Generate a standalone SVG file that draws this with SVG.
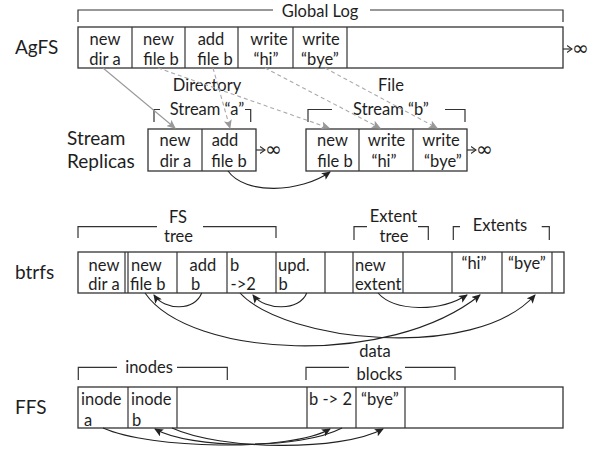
<svg xmlns="http://www.w3.org/2000/svg" width="593" height="450" viewBox="0 0 593 450">
<defs>
<style>
text{font-family:Lato,"Liberation Sans","DejaVu Sans",sans-serif;fill:#1e1e1e}
.lbl{font-size:19px}
.c{font-size:16.5px}
.m{text-anchor:middle}
.box{fill:#fff;stroke:#333;stroke-width:1.3}
.div{stroke:#333;stroke-width:1.2}
.br{fill:none;stroke:#333;stroke-width:1.2}
.g{fill:none;stroke:#999;stroke-width:1.1}
.gd{fill:none;stroke:#aaa;stroke-width:1.1;stroke-dasharray:4 3}
.k{fill:none;stroke:#222;stroke-width:1.1}
.inf{font-size:20px;font-family:"DejaVu Sans",sans-serif}
</style>
<marker id="ag" markerWidth="9" markerHeight="8" refX="8" refY="4" orient="auto" markerUnits="userSpaceOnUse"><path d="M0,0 L9,4 L0,8 L2,4 z" fill="#999"/></marker>
<marker id="ak" markerWidth="9" markerHeight="8" refX="8" refY="4" orient="auto" markerUnits="userSpaceOnUse"><path d="M0,0 L9,4 L0,8 L2,4 z" fill="#222"/></marker>
<marker id="ai" markerWidth="6" markerHeight="8" refX="5.5" refY="4" orient="auto" markerUnits="userSpaceOnUse"><path d="M0.5,0.5 L5.5,4 L0.5,7.5" fill="none" stroke="#333" stroke-width="1.1"/></marker>
</defs>

<!-- row labels -->
<g id="labels">
<text class="lbl" x="15" y="54">AgFS</text>
<text class="lbl" x="67" y="145">Stream</text>
<text class="lbl" x="67" y="168">Replicas</text>
<text class="lbl" x="15" y="279">btrfs</text>
<text class="lbl" x="15" y="414">FFS</text>
</g>

<!-- brackets -->
<g id="brackets">
<path class="br" d="M78,22 V10 H273"/><path class="br" d="M370,10 H563 V22"/>
<text class="c m" x="320" y="16.5">Global Log</text>
<path class="br" d="M154,122 V109.5 H160"/><path class="br" d="M245,109.5 H250.7 V122"/>
<text class="c m" x="207" y="91">Directory</text>
<text class="c m" x="207" y="114.5">Stream “a”</text>
<path class="br" d="M308,122 V109.5 H332"/><path class="br" d="M445,109.5 H465 V122"/>
<text class="c m" x="391" y="91">File</text>
<text class="c m" x="391" y="114.5">Stream “b”</text>
<path class="br" d="M78,238 V226.7 H157"/><path class="br" d="M203,226.7 H276 V238"/>
<text class="c m" x="178" y="223">FS</text>
<text class="c m" x="178.5" y="241.5">tree</text>
<path class="br" d="M354,240 V226.7 H367"/><path class="br" d="M418,226.7 H428.3 V240"/>
<text class="c m" x="393.5" y="221.7">Extent</text>
<text class="c m" x="394" y="241.5">tree</text>
<path class="br" d="M453.3,240 V226.7 H460"/><path class="br" d="M541.7,226.7 H549.3 V240"/>
<text class="c m" x="500" y="231">Extents</text>
<path class="br" d="M78.3,380 V367.3 H117"/><path class="br" d="M177,367.3 H227.3 V380"/>
<text class="c m" x="149" y="373">inodes</text>
<path class="br" d="M306,380 V367.3 H349"/><path class="br" d="M405,367.3 H455 V380"/>
<text class="c m" x="375" y="356.7">data</text>
<text class="c m" x="379.5" y="379.5">blocks</text>
</g>

<!-- AgFS global log -->
<g id="agfs">
<rect class="box" x="78" y="27" width="485" height="41"/>
<g id="ag-newdir"><line class="div" x1="132" y1="27" x2="132" y2="68"/><text class="c m" x="105" y="45">new</text><text class="c m" x="105" y="65">dir a</text></g>
<g id="ag-newfile"><line class="div" x1="185" y1="27" x2="185" y2="68"/><text class="c m" x="158.5" y="45">new</text><text class="c m" x="161" y="65">file b</text></g>
<g id="ag-addfile"><line class="div" x1="238" y1="27" x2="238" y2="68"/><text class="c m" x="211" y="45">add</text><text class="c m" x="215" y="65">file b</text></g>
<g id="ag-writehi"><line class="div" x1="293" y1="27" x2="293" y2="68"/><text class="c m" x="269" y="45">write</text><text class="c m" x="266" y="65">“hi”</text></g>
<g id="ag-writebye"><line class="div" x1="347" y1="27" x2="347" y2="68"/><text class="c m" x="321" y="45">write</text><text class="c m" x="320" y="65">“bye”</text></g>
<g id="ag-inf"><line class="div" x1="563" y1="49" x2="572" y2="49" marker-end="url(#ai)"/><text class="inf" x="572" y="55">∞</text></g>
</g>

<!-- Stream a -->
<g id="stream-a">
<rect class="box" x="148" y="129" width="108" height="42"/>
<g id="sa-newdir"><line class="div" x1="202" y1="129" x2="202" y2="171"/><text class="c m" x="175" y="145.5">new</text><text class="c m" x="175.5" y="166.5">dir a</text></g>
<g id="sa-addfile"><text class="c m" x="225" y="145.5">add</text><text class="c m" x="229" y="166.5">file b</text></g>
<g id="sa-inf"><line class="div" x1="256" y1="150" x2="265" y2="150" marker-end="url(#ai)"/><text class="inf" x="265" y="156">∞</text></g>
</g>

<!-- Stream b -->
<g id="stream-b">
<rect class="box" x="306" y="129" width="161" height="42"/>
<g id="sb-newfile"><line class="div" x1="359" y1="129" x2="359" y2="171"/><text class="c m" x="332.5" y="145.5">new</text><text class="c m" x="335" y="166.5">file b</text></g>
<g id="sb-writehi"><line class="div" x1="413" y1="129" x2="413" y2="171"/><text class="c m" x="386.5" y="145.5">write</text><text class="c m" x="384" y="166.5">“hi”</text></g>
<g id="sb-writebye"><text class="c m" x="441" y="145.5">write</text><text class="c m" x="443" y="166.5">“bye”</text></g>
<g id="sb-inf"><line class="div" x1="467" y1="150" x2="476" y2="150" marker-end="url(#ai)"/><text class="inf" x="476" y="156">∞</text></g>
</g>

<!-- btrfs -->
<g id="btrfs">
<rect class="box" x="78" y="252" width="486" height="41"/>
<g id="bt-newdir"><line class="div" x1="125" y1="252" x2="125" y2="293"/><text class="c m" x="104" y="270.5">new</text><text class="c m" x="104" y="290">dir a</text></g>
<g id="bt-newfile"><line class="div" x1="128" y1="252" x2="128" y2="293"/><line class="div" x1="177" y1="252" x2="177" y2="293"/><text class="c" x="131" y="270.5">new</text><text class="c" x="130" y="290">file b</text></g>
<g id="bt-add"><line class="div" x1="227" y1="252" x2="227" y2="293"/><text class="c" x="189.5" y="270.5">add</text><text class="c" x="191" y="290">b</text></g>
<g id="bt-b2"><line class="div" x1="276" y1="252" x2="276" y2="293"/><text class="c" x="230" y="270.5">b</text><text class="c" x="230.5" y="290">-&gt;2</text></g>
<g id="bt-upd"><line class="div" x1="325" y1="252" x2="325" y2="293"/><text class="c" x="278" y="270.5">upd.</text><text class="c" x="278.5" y="290">b</text></g>
<g id="bt-empty1"><line class="div" x1="353" y1="252" x2="353" y2="293"/></g>
<g id="bt-newextent"><line class="div" x1="403" y1="252" x2="403" y2="293"/><text class="c" x="355" y="270.5">new</text><text class="c" x="355" y="290">extent</text></g>
<g id="bt-empty2"><line class="div" x1="452" y1="252" x2="452" y2="293"/></g>
<g id="bt-hi"><line class="div" x1="502" y1="252" x2="502" y2="293"/><text class="c m" x="474" y="269">“hi”</text></g>
<g id="bt-bye"><line class="div" x1="552" y1="252" x2="552" y2="293"/><text class="c m" x="527" y="269">“bye”</text></g>
</g>

<!-- FFS -->
<g id="ffs">
<rect class="box" x="78" y="387" width="485" height="41"/>
<g id="ffs-inodea"><line class="div" x1="128" y1="387" x2="128" y2="428"/><text class="c" x="81" y="405">inode</text><text class="c" x="84" y="426">a</text></g>
<g id="ffs-inodeb"><line class="div" x1="177" y1="387" x2="177" y2="428"/><text class="c" x="131" y="405">inode</text><text class="c" x="132" y="426">b</text></g>
<g id="ffs-empty1"><line class="div" x1="307" y1="387" x2="307" y2="428"/></g>
<g id="ffs-dir"><line class="div" x1="356" y1="387" x2="356" y2="428"/><text class="c" x="309" y="405">b -&gt; 2</text></g>
<g id="ffs-bye"><line class="div" x1="405" y1="387" x2="405" y2="428"/><text class="c" x="361" y="405">“bye”</text></g>
</g>

<!-- connectors -->
<g id="connectors">
<path class="g" d="M103,68 L175,128" marker-end="url(#ag)"/>
<path class="gd" d="M158,68 L329,128" marker-end="url(#ag)"/>
<path class="gd" d="M213,68 L230,128" marker-end="url(#ag)"/>
<path class="gd" d="M265,68 L380,128" marker-end="url(#ag)"/>
<path class="gd" d="M325,68 L437,128" marker-end="url(#ag)"/>
<path class="k" d="M228,171 C245,195 300,193 330,172" marker-end="url(#ak)"/>

<path class="k" d="M201.7,293 C195,311 165,311 154,295" marker-end="url(#ak)"/>
<path class="k" d="M306.7,293 C300,311 265,311 253,295" marker-end="url(#ak)"/>
<path class="k" d="M378,293 C395,312 440,312 467,295" marker-end="url(#ak)"/>
<path class="k" d="M145,293 C190,358 390,368 480,295" marker-end="url(#ak)"/>
<path class="k" d="M240,293 C285,342 475,362 535,295" marker-end="url(#ak)"/>

<path class="k" d="M103,428 C150,449 290,452 330,429" marker-end="url(#ak)"/>
<path class="k" d="M342,428 C300,450 190,449 155,429" marker-end="url(#ak)"/>
<path class="k" d="M172,428 C220,450 340,452 383,429" marker-end="url(#ak)"/>
</g>
</svg>
